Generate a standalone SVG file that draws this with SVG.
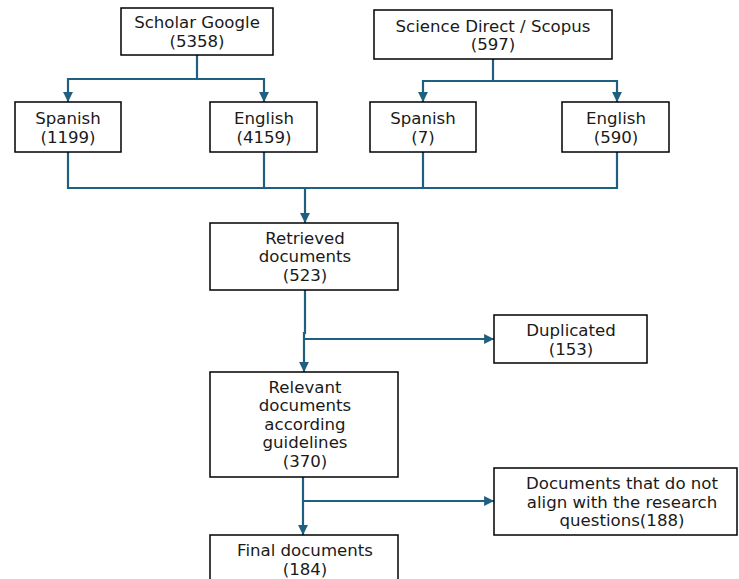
<svg xmlns="http://www.w3.org/2000/svg" width="739" height="579" viewBox="0 0 739 579">
<defs>
<style>
.box{fill:#fff;stroke:#000;stroke-width:1.5}
.t{font-family:"DejaVu Sans",Verdana,sans-serif;font-size:16.6px;fill:#1a1a1a;text-anchor:middle}
.c{fill:none;stroke:#1f5f7f;stroke-width:2.2}
</style>
<marker id="ah" viewBox="0 0 10 10" refX="10" refY="5" markerWidth="4.5" markerHeight="4.5" markerUnits="strokeWidth" orient="auto">
<path d="M0,0 L10,5 L0,10 z" fill="#1f5f7f"/>
</marker>
</defs>
<rect width="739" height="579" fill="#fff"/>
<g id="connectors">
<path class="c" d="M197,55 V79"/>
<path class="c" d="M68,79 H264"/>
<path class="c" d="M68,78 V102" marker-end="url(#ah)"/>
<path class="c" d="M264,78 V102" marker-end="url(#ah)"/>
<path class="c" d="M493,59 V81"/>
<path class="c" d="M423,81 H617"/>
<path class="c" d="M423,80 V102" marker-end="url(#ah)"/>
<path class="c" d="M617,80 V102" marker-end="url(#ah)"/>
<path class="c" d="M68,152 V188 H617 V152"/>
<path class="c" d="M264,152 V188"/>
<path class="c" d="M423,152 V188"/>
<path class="c" d="M305,188 V223" marker-end="url(#ah)"/>
<path class="c" d="M305,290 V333 H304 V372" marker-end="url(#ah)"/>
<path class="c" d="M304,339 H494" marker-end="url(#ah)"/>
<path class="c" d="M303,477 V535" marker-end="url(#ah)"/>
<path class="c" d="M303,501 H494" marker-end="url(#ah)"/>
</g>
<g id="scholar">
<rect class="box" x="121" y="8" width="152" height="47"/>
<text class="t" x="197" y="28">Scholar Google</text>
<text class="t" x="197" y="47">(5358)</text>
</g>
<g id="science">
<rect class="box" x="374" y="10" width="238" height="49"/>
<text class="t" x="493" y="32">Science Direct / Scopus</text>
<text class="t" x="493" y="50">(597)</text>
</g>
<g id="spanish1">
<rect class="box" x="15" y="102" width="106" height="50"/>
<text class="t" x="68" y="124">Spanish</text>
<text class="t" x="68" y="143">(1199)</text>
</g>
<g id="english1">
<rect class="box" x="210" y="102" width="107" height="50"/>
<text class="t" x="264" y="124">English</text>
<text class="t" x="264" y="143">(4159)</text>
</g>
<g id="spanish2">
<rect class="box" x="370" y="102" width="106" height="50"/>
<text class="t" x="423" y="124">Spanish</text>
<text class="t" x="423" y="143">(7)</text>
</g>
<g id="english2">
<rect class="box" x="562" y="102" width="107" height="50"/>
<text class="t" x="616" y="124">English</text>
<text class="t" x="616" y="143">(590)</text>
</g>
<g id="retrieved">
<rect class="box" x="210" y="223" width="188" height="67"/>
<text class="t" x="305" y="244">Retrieved</text>
<text class="t" x="305" y="262">documents</text>
<text class="t" x="305" y="281">(523)</text>
</g>
<g id="duplicated">
<rect class="box" x="494" y="315" width="153" height="48"/>
<text class="t" x="571" y="336">Duplicated</text>
<text class="t" x="571" y="355">(153)</text>
</g>
<g id="relevant">
<rect class="box" x="210" y="372" width="188" height="105"/>
<text class="t" x="305" y="393">Relevant</text>
<text class="t" x="305" y="411">documents</text>
<text class="t" x="305" y="430">according</text>
<text class="t" x="305" y="448">guidelines</text>
<text class="t" x="305" y="467">(370)</text>
</g>
<g id="notalign">
<rect class="box" x="494" y="468" width="243" height="67"/>
<text class="t" x="622" y="489">Documents that do not</text>
<text class="t" x="622" y="508">align with the research</text>
<text class="t" x="622" y="526">questions(188)</text>
</g>
<g id="final">
<rect class="box" x="210" y="535" width="188" height="50"/>
<text class="t" x="305" y="556">Final documents</text>
<text class="t" x="305" y="575">(184)</text>
</g>
</svg>
